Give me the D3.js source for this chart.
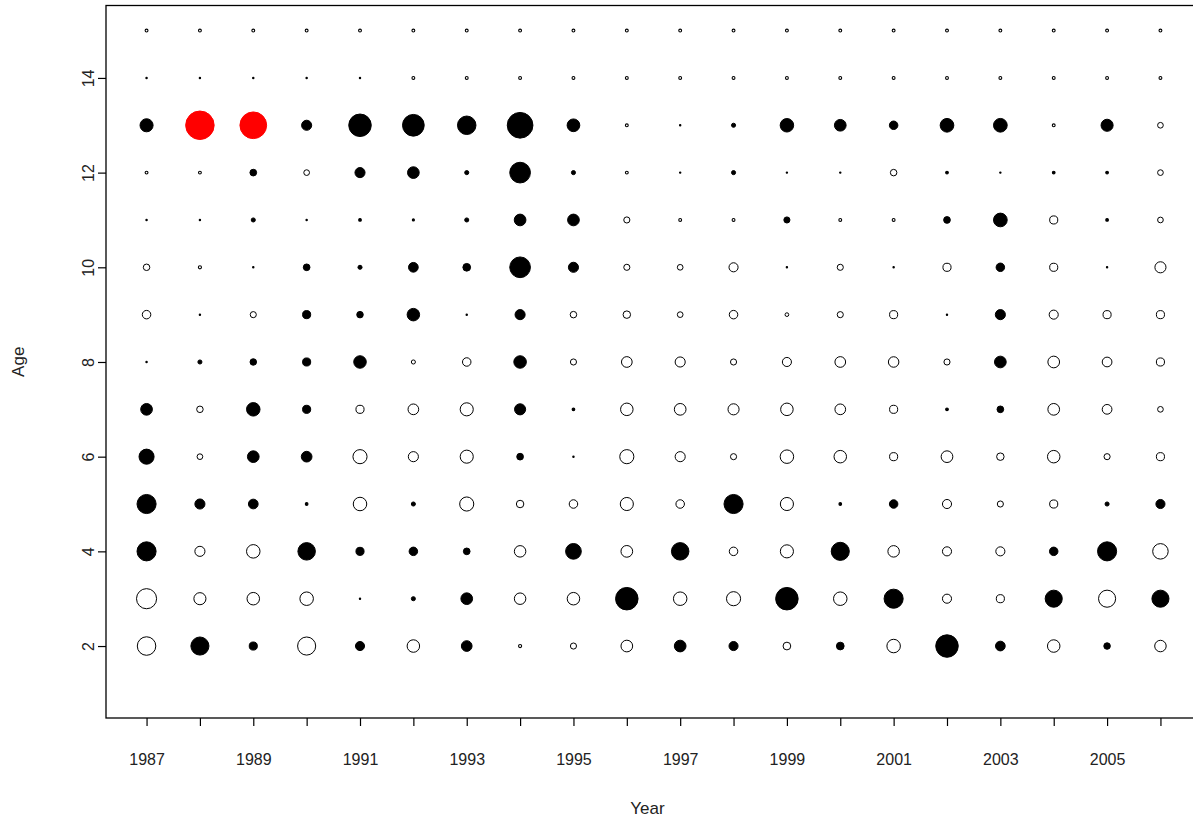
<!DOCTYPE html>
<html><head><meta charset="utf-8">
<script src="https://cdn.jsdelivr.net/npm/d3@7"></script>
<style>body{margin:0;background:#fff}svg{display:block}text{font-family:"Liberation Sans",Arial,sans-serif;fill:#222}</style>
</head><body>
<svg id="c" width="1193" height="823"></svg>
<script>
const years = d3.range(1987, 2007);
const ages = [2,3,4,5,6,7,8,9,10,11,12,13,14,15];
const xTickLabels = [1987,1989,1991,1993,1995,1997,1999,2001,2003,2005];
const yTickLabels = [2,4,6,8,10,12,14];
// residuals by age (rows) for years 1987..2006 (positive = filled, negative = open)
const res2  = [-5.88,5.64,1.27,-5.64,1.56,-2.81,2.10,-0.25,-0.77,-2.48,2.48,1.56,-1.16,1.16,-3.24,8.56,1.76,-2.81,0.86,-2.40];
const res3  = [-6.89,-2.64,-2.81,-3.24,0.08,0.39,2.48,-2.40,-2.81,8.56,-3.24,-3.52,8.56,-3.24,6.25,-1.56,-1.27,5.06,-5.06,5.06];
const res4  = [6.25,-1.89,-3.24,5.29,1.27,1.38,0.90,-2.40,4.31,-2.48,5.29,-1.38,-3.06,5.64,-2.40,-1.56,-1.56,1.38,6.25,-4.20];
const res5  = [6.25,1.89,1.76,0.20,-3.24,0.39,-3.52,-1.10,-1.38,-3.06,-1.38,6.25,-3.06,0.20,1.38,-1.56,-0.77,-1.27,0.39,1.56];
const res6  = [4.00,-0.68,2.48,2.10,-3.52,-1.89,-3.06,0.90,0.08,-3.52,-1.89,-0.77,-3.24,-2.81,-1.27,-2.48,-1.10,-2.81,-0.77,-1.27];
const res7  = [2.48,-0.86,3.24,1.27,-1.27,-2.10,-3.06,2.25,0.20,-2.81,-2.48,-2.25,-2.81,-2.10,-1.27,0.20,0.90,-2.48,-1.76,-0.68];
const res8  = [0.08,0.39,0.86,1.27,2.81,-0.39,-1.38,2.81,-0.77,-2.10,-1.89,-0.77,-1.56,-2.10,-2.03,-0.77,2.48,-2.48,-1.76,-1.27];
const res9  = [-1.38,0.08,-0.77,1.27,0.86,2.81,0.08,1.89,-0.86,-1.10,-0.68,-1.38,-0.33,-0.77,-1.27,0.08,1.89,-1.56,-1.27,-1.27];
const res10 = [-0.86,-0.25,0.08,0.90,0.39,1.76,1.16,7.29,1.89,-0.77,-0.68,-1.56,0.08,-0.77,0.08,-1.27,1.38,-1.27,0.08,-2.25];
const res11 = [0.08,0.08,0.39,0.08,0.20,0.14,0.39,2.48,2.48,-0.77,-0.22,-0.22,0.77,-0.22,-0.22,0.90,3.33,-1.27,0.20,-0.68];
const res12 = [-0.22,-0.22,0.90,-0.68,1.89,2.48,0.39,7.29,0.39,-0.22,0.08,0.39,0.08,0.08,-0.86,0.20,0.08,0.20,0.20,-0.68];
const res13 = [3.06,13.5,11.9,1.89,8.56,7.98,5.88,11.06,2.89,-0.22,0.08,0.39,3.24,2.48,1.38,3.33,3.33,-0.22,2.64,-0.68];
const res14 = [0.08,0.08,0.08,0.08,0.08,-0.22,-0.22,-0.22,-0.22,-0.22,-0.22,-0.22,-0.22,-0.22,-0.22,-0.22,-0.22,-0.22,-0.22,-0.22];
const res15 = [-0.22,-0.22,-0.22,-0.22,-0.22,-0.22,-0.22,-0.22,-0.22,-0.22,-0.22,-0.22,-0.22,-0.22,-0.22,-0.22,-0.22,-0.22,-0.22,-0.22];
const rows = [res2,res3,res4,res5,res6,res7,res8,res9,res10,res11,res12,res13,res14,res15];
// cells highlighted in red: [year, age]
const flagged = [[1988,13],[1989,13]];

const cells = [];
ages.forEach((a,i)=>years.forEach((yr,j)=>cells.push({year:yr, age:a, v:rows[i][j],
  red: flagged.some(f=>f[0]===yr&&f[1]===a)})));

const svg = d3.select('#c');
const L=106, R=1201, T=5.5, B=718;
const x = d3.scaleLinear().domain([1986.24, 2006.76]).range([L, R]);
const y = d3.scaleLinear().domain([0.48, 15.53]).range([B, T]);
const r = d3.scaleSqrt().domain([0, 1]).range([0, 4]);

svg.append('g').selectAll('circle').data(cells).join('circle')
  .attr('cx', d=>x(d.year)).attr('cy', d=>y(d.age))
  .attr('r', d=>Math.max(0.6, r(Math.abs(d.v)) - 0.45))
  .attr('fill', d=>d.v>0 ? (d.red?'#ff0000':'#000') : '#fff')
  .attr('stroke', d=>d.red?'#ff0000':'#000')
  .attr('stroke-width', d=>Math.abs(d.v)<0.3 ? 1.1 : 1);

// box
svg.append('rect').attr('x',L).attr('y',T).attr('width',R-L).attr('height',B-T)
  .attr('fill','none').attr('stroke','#000').attr('stroke-width',1.3);

// x axis
const xa = svg.append('g').attr('transform',`translate(0,${B})`)
  .call(d3.axisBottom(x).tickValues(years).tickSize(8).tickPadding(28)
    .tickFormat(d=>xTickLabels.includes(d)?String(d):''));
xa.select('.domain').remove();
xa.selectAll('line').attr('stroke','#000').attr('stroke-width',1.2);
xa.selectAll('text').attr('font-size',16).attr('fill','#222')
  .attr('font-family','"Liberation Sans",Arial,sans-serif');

// y axis
const ya = svg.append('g').attr('transform',`translate(${L},0)`)
  .call(d3.axisLeft(y).tickValues(yTickLabels).tickSize(8).tickFormat(d=>String(d)));
ya.select('.domain').remove();
ya.selectAll('line').attr('stroke','#000').attr('stroke-width',1.2);
ya.selectAll('text').attr('font-size',16).attr('fill','#222')
  .attr('font-family','"Liberation Sans",Arial,sans-serif')
  .attr('x',null).attr('dy',null)
  .attr('text-anchor','middle')
  .attr('transform','translate(-12,0) rotate(-90)');

svg.append('text').attr('x',(L+1193)/2 - 2).attr('y',814).attr('text-anchor','middle')
  .attr('font-size',17).text('Year');
svg.append('text').attr('transform',`translate(24,${(T+B)/2}) rotate(-90)`)
  .attr('text-anchor','middle').attr('font-size',17).text('Age');
</script>
</body></html>
